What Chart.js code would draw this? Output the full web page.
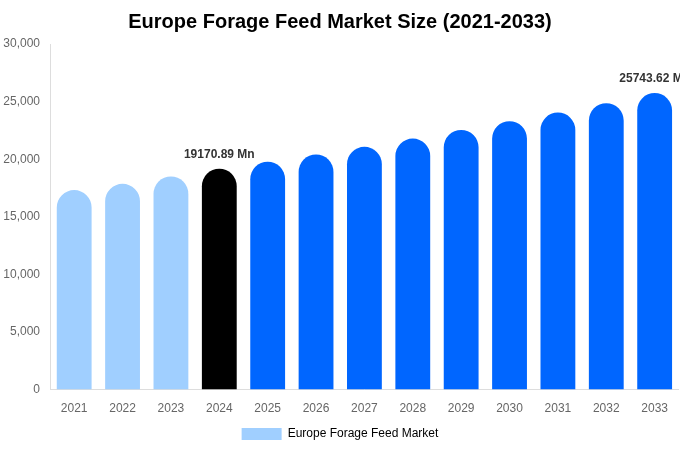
<!DOCTYPE html>
<html>
<head>
<meta charset="utf-8">
<script src="https://cdn.jsdelivr.net/npm/chart.js@4"></script>
<style>
    html, body { margin: 0; padding: 0; background: #fff; }
    #wrap { width: 680px; height: 450px; }
</style>
</head>
<body>
<div id="wrap"><canvas id="marketChart"></canvas></div>
<script>
const years = ["2021", "2022", "2023", "2024", "2025", "2026", "2027", "2028", "2029", "2030", "2031", "2032", "2033"];
const marketSize = [17320, 17860, 18500, 19170.89, 19780, 20410, 21070, 21790, 22540, 23300, 24050, 24860, 25743.62];
const labelledYears = ["2024", "2033"];
const yTicks = [0, 5000, 10000, 15000, 20000, 25000, 30000];

const barColors = years.map(y => {
    if (y < "2024") return "#a0cfff";
    if (y === "2024") return "#000000";
    return "#0066ff";
});

// value labels over the base year and the last forecast year
const valueLabels = {
    id: "valueLabels",
    afterDatasetsDraw(chart) {
        const ctx = chart.ctx;
        const meta = chart.getDatasetMeta(0);
        ctx.save();
        ctx.font = "bold 12px 'Liberation Sans', Arial, sans-serif";
        ctx.fillStyle = "#333";
        ctx.textAlign = "center";
        ctx.textBaseline = "bottom";
        meta.data.forEach((bar, i) => {
            if (!labelledYears.includes(years[i])) return;
            ctx.fillText(marketSize[i].toFixed(2) + " Mn", bar.x, bar.y - 8);
        });
        ctx.restore();
    }
};

Chart.defaults.font.family = "'Liberation Sans', Arial, sans-serif";
Chart.defaults.color = "#666";

new Chart(document.getElementById("marketChart"), {
    type: "bar",
    data: {
        labels: years,
        datasets: [{
            label: "Europe Forage Feed Market",
            data: marketSize,
            backgroundColor: barColors,
            borderRadius: { topLeft: 20, topRight: 20 },
            borderSkipped: "bottom",
            categoryPercentage: 0.8,
            barPercentage: 0.9
        }]
    },
    options: {
        responsive: true,
        maintainAspectRatio: false,
        animation: false,
        layout: { padding: 0 },
        plugins: {
            title: {
                display: true,
                text: "Europe Forage Feed Market Size (2021-2033)",
                color: "#000",
                font: { size: 20, weight: "bold" },
                padding: { top: 10, bottom: 10 }
            },
            legend: {
                position: "bottom",
                labels: {
                    boxWidth: 40,
                    font: { size: 12 },
                    color: "#666",
                    generateLabels: () => [{
                        text: "Europe Forage Feed Market",
                        fillStyle: "#a0cfff",
                        strokeStyle: "#a0cfff",
                        lineWidth: 0,
                        datasetIndex: 0
                    }]
                }
            },
            tooltip: { enabled: false }
        },
        scales: {
            x: {
                grid: { display: false, drawTicks: false },
                border: { display: true, color: "#ddd" },
                ticks: { font: { size: 12 }, color: "#666", padding: 12 },
                afterFit: axis => { axis.height -= 10; }
            },
            y: {
                min: 0,
                max: 30000,
                afterBuildTicks: axis => { axis.ticks = yTicks.map(v => ({ value: v })); },
                afterFit: axis => { axis.width = 50; },
                grid: { display: false, drawTicks: false },
                border: { display: true, color: "#ddd" },
                ticks: {
                    font: { size: 12 },
                    color: "#666",
                    padding: 10,
                    callback: v => v.toLocaleString("en-US")
                }
            }
        }
    },
    plugins: [valueLabels]
});
</script>
</body>
</html>
